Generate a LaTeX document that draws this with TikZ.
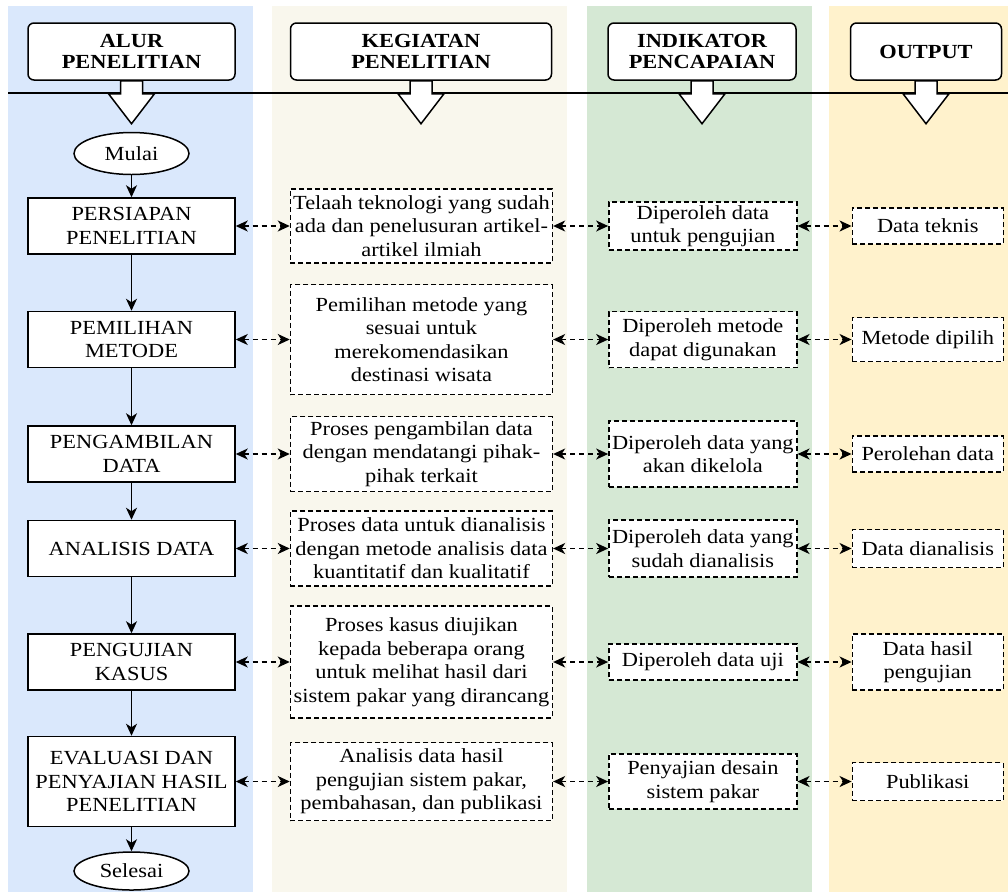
\documentclass[tikz,border=0pt]{standalone}
\usepackage{fontspec}
\setmainfont{Liberation Serif}[FakeStretch=1.12]
\usetikzlibrary{positioning, arrows.meta, shapes.geometric}

\definecolor{kolomalur}{HTML}{DAE8FC}
\definecolor{kolomkegiatan}{HTML}{F9F7ED}
\definecolor{kolomindikator}{HTML}{D5E8D4}
\definecolor{kolomhasil}{HTML}{FFF2CC}

\begin{document}
\begin{tikzpicture}[
			x=1pt, y=-1pt,
			nodes = {
				align = center,
				font=\fontsize{20}{23.5}\selectfont
			},
			judul/.style={
				draw,
				fill=white,
				rounded corners=6pt,
				line width=1.5pt,
				minimum height=57pt,
				inner sep=1pt,
				font=\fontsize{20}{21}\selectfont\bfseries
			},
			terminal/.style={
				ellipse,
				draw,
				fill=white,
				line width=1.5pt,
				minimum width=115pt,
				minimum height=42pt,
				inner sep=0pt
			},
			tahap/.style={
				draw,
				fill=white,
				rectangle,
				line width=1.5pt,
				minimum width=207pt,
				minimum height=56pt,
				inner sep=1pt
			},
			kotak/.style={
				draw,
				fill=white,
				rectangle,
				dash pattern=on 5pt off 3pt,
				line width=1.4pt,
				inner xsep=1pt,
				inner ysep=1pt
			},
			kegiatan/.style={kotak, minimum width=262pt},
			indikator/.style={kotak, minimum width=188pt},
			hasil/.style={kotak, minimum width=151pt},
			blok/.style={
				draw,
				fill=white,
				line width=1.5pt,
				line join=miter
			},
			lines/.style={
				line width=1.5pt,
				>={Stealth[length=12pt,width=11pt,inset=3.5pt]}
			},
			dua/.style={
				lines,
				dash pattern=on 5pt off 4pt,
				<->
			}
		]
			\useasboundingbox (0,0) rectangle (1008,892);

			\fill[kolomalur] (8,6) rectangle (253,892);
			\fill[kolomkegiatan] (272,6) rectangle (567,892);
			\fill[kolomindikator] (587,6) rectangle (812,892);
			\fill[kolomhasil] (829,6) rectangle (1008,892);

			\node[judul, minimum width=207pt] (halur) at (131.5,51.5) {ALUR\\PENELITIAN};
			\node[judul, minimum width=261pt] (hkegiatan) [right=54pt of halur] {KEGIATAN\\PENELITIAN};
			\node[judul, minimum width=188pt] (hindikator) [right=55pt of hkegiatan] {INDIKATOR\\PENCAPAIAN};
			\node[judul, minimum width=151pt] (hhasil) [right=53pt of hindikator] {OUTPUT};

			\draw[line width=1.5pt] (8,93) -- (1008,93);

			\draw[blok] (halur.south) ++(-11,0) -- ++(0,13) -- ++(-12,0) -- ++(23,30) -- ++(23,-30) -- ++(-12,0) -- ++(0,-13) -- cycle;
			\draw[blok] (hkegiatan.south) ++(-11,0) -- ++(0,13) -- ++(-12,0) -- ++(23,30) -- ++(23,-30) -- ++(-12,0) -- ++(0,-13) -- cycle;
			\draw[blok] (hindikator.south) ++(-11,0) -- ++(0,13) -- ++(-12,0) -- ++(23,30) -- ++(23,-30) -- ++(-12,0) -- ++(0,-13) -- cycle;
			\draw[blok] (hhasil.south) ++(-11,0) -- ++(0,13) -- ++(-12,0) -- ++(23,30) -- ++(23,-30) -- ++(-12,0) -- ++(0,-13) -- cycle;

			\node[terminal] (mulai) at (131.5,153.5) {Mulai};
			\node[tahap] (persiapan) [below=22pt of mulai] {PERSIAPAN\\PENELITIAN};
			\node[tahap] (pemilihan) [below=56pt of persiapan] {PEMILIHAN\\METODE};
			\node[tahap] (pengambilan) [below=57pt of pemilihan] {PENGAMBILAN\\DATA};
			\node[tahap] (analisis) [below=37pt of pengambilan] {ANALISIS DATA};
			\node[tahap] (pengujian) [below=56pt of analisis] {PENGUJIAN\\KASUS};
			\node[tahap, minimum height=90pt] (evaluasi) [below=45pt of pengujian] {EVALUASI DAN\\PENYAJIAN HASIL\\PENELITIAN};
			\node[terminal, minimum height=38pt] (selesai) [below=24pt of evaluasi] {Selesai};

			\node[kegiatan, minimum height=74pt] (k1) [right=54pt of persiapan] {Telaah teknologi yang sudah\\ada dan penelusuran artikel-\\artikel ilmiah};
			\node[kegiatan, minimum height=110pt] (k2) [right=54pt of pemilihan] {Pemilihan metode yang\\sesuai untuk\\merekomendasikan\\destinasi wisata};
			\node[kegiatan, minimum height=75pt] (k3) [right=54pt of pengambilan] {Proses pengambilan data\\dengan mendatangi pihak-\\pihak terkait};
			\node[kegiatan, minimum height=75pt] (k4) [right=54pt of analisis] {Proses data untuk dianalisis\\dengan metode analisis data\\kuantitatif dan kualitatif};
			\node[kegiatan, minimum height=112pt] (k5) [right=54pt of pengujian] {Proses kasus diujikan\\kepada beberapa orang\\untuk melihat hasil dari\\sistem pakar yang dirancang};
			\node[kegiatan, minimum height=78pt] (k6) [right=54pt of evaluasi] {Analisis data hasil\\pengujian sistem pakar,\\pembahasan, dan publikasi};

			\node[indikator, minimum height=48pt] (i1) [right=55pt of k1] {Diperoleh data\\untuk pengujian};
			\node[indikator, minimum height=56pt] (i2) [right=55pt of k2] {Diperoleh metode\\dapat digunakan};
			\node[indikator, minimum height=66pt] (i3) [right=55pt of k3] {Diperoleh data yang\\akan dikelola};
			\node[indikator, minimum height=57pt] (i4) [right=55pt of k4] {Diperoleh data yang\\sudah dianalisis};
			\node[indikator, minimum height=36pt] (i5) [right=55pt of k5] {Diperoleh data uji};
			\node[indikator, minimum height=55pt] (i6) [right=55pt of k6] {Penyajian desain\\sistem pakar};

			\node[hasil, minimum height=36pt] (o1) [right=54pt of i1] {Data teknis};
			\node[hasil, minimum height=44pt] (o2) [right=54pt of i2] {Metode dipilih};
			\node[hasil, minimum height=36pt] (o3) [right=54pt of i3] {Perolehan data};
			\node[hasil, minimum height=38pt] (o4) [right=54pt of i4] {Data dianalisis};
			\node[hasil, minimum height=56pt] (o5) [right=54pt of i5] {Data hasil\\pengujian};
			\node[hasil, minimum height=38pt] (o6) [right=54pt of i6] {Publikasi};

			\draw[lines,->] (mulai) -- (persiapan);
			\draw[lines,->] (persiapan) -- (pemilihan);
			\draw[lines,->] (pemilihan) -- (pengambilan);
			\draw[lines,->] (pengambilan) -- (analisis);
			\draw[lines,->] (analisis) -- (pengujian);
			\draw[lines,->] (pengujian) -- (evaluasi);
			\draw[lines,->] (evaluasi) -- (selesai);

			\draw[dua] (persiapan) -- (k1);
			\draw[dua] (pemilihan) -- (k2);
			\draw[dua] (pengambilan) -- (k3);
			\draw[dua] (analisis) -- (k4);
			\draw[dua] (pengujian) -- (k5);
			\draw[dua] (evaluasi) -- (k6);

			\draw[dua] (k1) -- (i1);
			\draw[dua] (k2) -- (i2);
			\draw[dua] (k3) -- (i3);
			\draw[dua] (k4) -- (i4);
			\draw[dua] (k5) -- (i5);
			\draw[dua] (k6) -- (i6);

			\draw[dua] (i1) -- (o1);
			\draw[dua] (i2) -- (o2);
			\draw[dua] (i3) -- (o3);
			\draw[dua] (i4) -- (o4);
			\draw[dua] (i5) -- (o5);
			\draw[dua] (i6) -- (o6);

		\end{tikzpicture}
\end{document}
